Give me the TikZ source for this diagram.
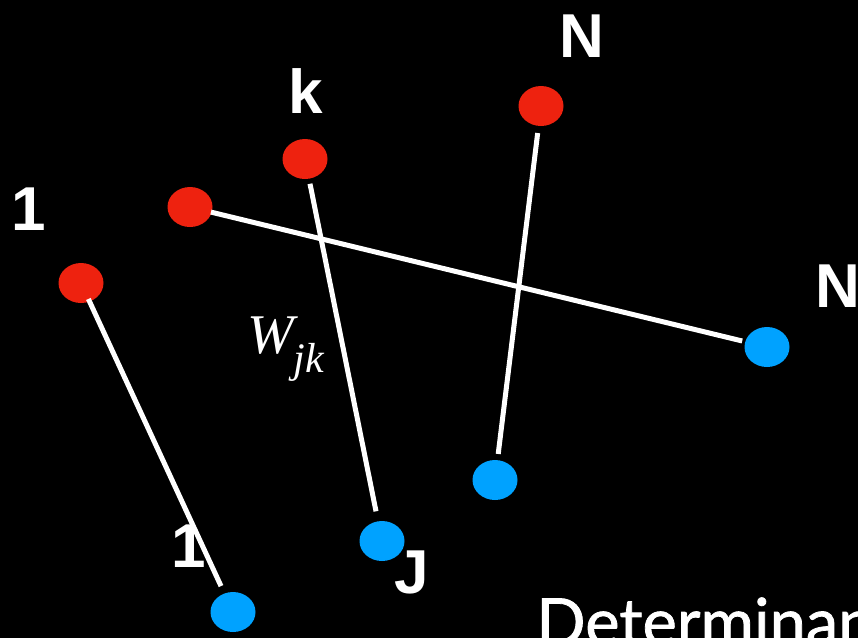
\documentclass[tikz,border=0pt]{standalone}
\usepackage{fontspec}
\setmainfont{Liberation Sans}
\newfontfamily\serifit{Liberation Serif}
\newfontfamily\avfont[FakeBold=1.2]{Lato}
\usetikzlibrary{shapes.geometric}
\definecolor{dotred}{RGB}{238,34,15}
\definecolor{dotblue}{RGB}{0,162,255}
\tikzset{
  reddot/.style={ellipse,fill=dotred,draw=none,minimum width=45pt,minimum height=40pt,inner sep=0pt},
  bluedot/.style={ellipse,fill=dotblue,draw=none,minimum width=45pt,minimum height=40pt,inner sep=0pt},
  lbl/.style={text=white,inner sep=0pt,anchor=base,font=\fontsize{62}{64}\selectfont\bfseries},
  wire/.style={draw=white,line width=5pt}
}
\begin{document}
\begin{tikzpicture}[x=1pt,y=-1pt]
\fill[black] (0,0) rectangle (858,638);
\useasboundingbox (0,0) rectangle (858,638);
\clip (0,0) rectangle (858,638);
% red dots
\node[reddot] (r1) at (81,283) {};
\node[reddot] (r2) at (190,207) {};
\node[reddot] (rk) at (305,159) {};
\node[reddot] (rN) at (541,106) {};
% blue dots
\node[bluedot] (b1) at (233,612) {};
\node[bluedot] (bJ) at (382,541) {};
\node[bluedot] (b3) at (495,480) {};
\node[bluedot] (bN) at (767,347) {};
% wires
\draw[wire,shorten <=-3pt,shorten >=8pt] (r1) -- (b1);
\draw[wire,shorten <=-1pt,shorten >=3pt] (r2) -- (bN);
\draw[wire,shorten <=5pt,shorten >=10pt] (rk) -- (bJ);
\draw[wire,shorten <=7pt,shorten >=6pt] (rN) -- (b3);
% labels
\node[lbl] (l1) at (28.5,230) {1};
\node[lbl] (lk) at (306,113) {k};
\node[lbl] (lN) at (582,57) {N};
\node[lbl,anchor=base west] (lN2) at (815,307) {N};
\node[lbl] (l1b) at (189,567) {1};
\node[lbl] (lJ) at (412,593) {J};
\node[text=white,inner sep=0pt,anchor=base west] (w) at (247,353)
  {\serifit\itshape\fontsize{56}{58}\selectfont W\raisebox{-19pt}{\fontsize{42}{44}\selectfont jk}};
\node[text=white,inner sep=0pt,anchor=base west] (det) at (536,645)
  {\avfont\fontsize{65}{68}\selectfont Determinant};
\end{tikzpicture}
\end{document}
